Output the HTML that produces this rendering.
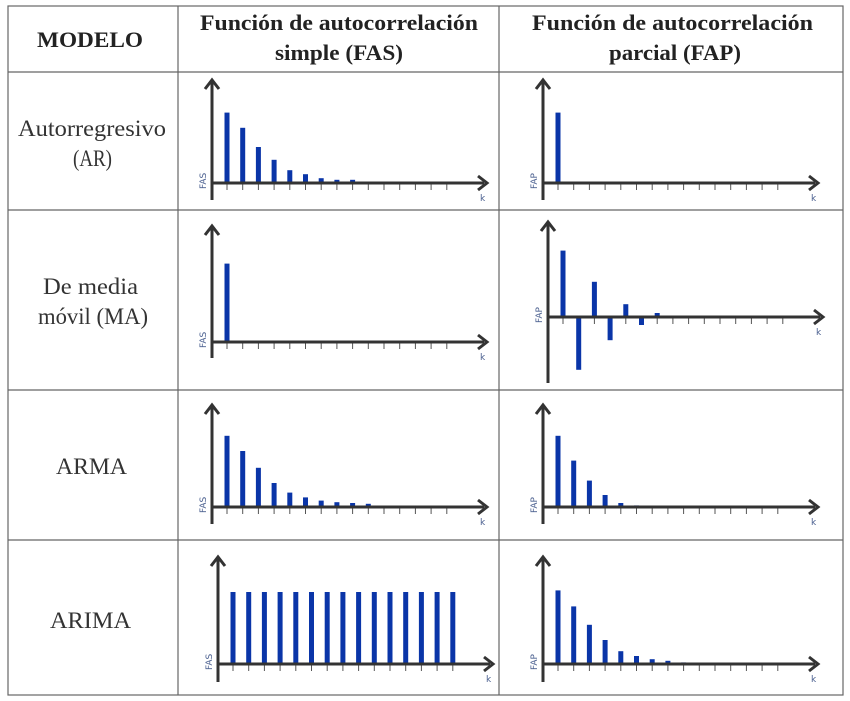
<!DOCTYPE html>
<html><head><meta charset="utf-8"><style>
html,body{margin:0;padding:0;background:#fff;width:850px;height:701px;overflow:hidden}
svg{display:block}
.h{font-family:"Liberation Serif",serif;font-weight:bold;font-size:22px;fill:#222}
.m{font-family:"Liberation Serif",serif;font-size:23px;fill:#333}
.al{font-family:"DejaVu Sans",sans-serif;font-size:9px;fill:#4a5f8f}
</style></head><body>
<svg id="s" width="850" height="701" viewBox="0 0 850 701">
<g stroke="#666" stroke-width="1.2" fill="none">
<rect x="8" y="6" width="835" height="689"/>
<line x1="178" y1="6" x2="178" y2="695"/>
<line x1="499" y1="6" x2="499" y2="695"/>
<line x1="8" y1="72" x2="843" y2="72"/>
<line x1="8" y1="210" x2="843" y2="210"/>
<line x1="8" y1="390" x2="843" y2="390"/>
<line x1="8" y1="540" x2="843" y2="540"/>
</g>
<text class="h" x="37" y="47" textLength="106" lengthAdjust="spacingAndGlyphs">MODELO</text>
<text class="h" x="200" y="30" textLength="278" lengthAdjust="spacingAndGlyphs">Función de autocorrelación</text>
<text class="h" x="275" y="60" textLength="128" lengthAdjust="spacingAndGlyphs">simple (FAS)</text>
<text class="h" x="532" y="30" textLength="281" lengthAdjust="spacingAndGlyphs">Función de autocorrelación</text>
<text class="h" x="609" y="60" textLength="132" lengthAdjust="spacingAndGlyphs">parcial (FAP)</text>
<text class="m" x="18" y="136" textLength="148" lengthAdjust="spacingAndGlyphs">Autorregresivo</text>
<text class="m" x="73" y="166" textLength="39" lengthAdjust="spacingAndGlyphs">(AR)</text>
<text class="m" x="43" y="294" textLength="95" lengthAdjust="spacingAndGlyphs">De media</text>
<text class="m" x="38" y="324" textLength="110" lengthAdjust="spacingAndGlyphs">móvil (MA)</text>
<text class="m" x="56" y="474" textLength="71" lengthAdjust="spacingAndGlyphs">ARMA</text>
<text class="m" x="50" y="628" textLength="81" lengthAdjust="spacingAndGlyphs">ARIMA</text>
</svg>
<script>
const arFas=[0.88,0.69,0.45,0.29,0.16,0.11,0.06,0.04,0.04,0.01,0.01];
const arFap=[0.88];
const maFas=[0.98];
const maFap=[0.83,-0.66,0.44,-0.29,0.16,-0.1,0.05];
const armaFas=[0.89,0.7,0.49,0.3,0.18,0.12,0.08,0.06,0.05,0.04];
const armaFap=[0.89,0.58,0.33,0.15,0.05,0.02];
const arimaFas=[0.9,0.9,0.9,0.9,0.9,0.9,0.9,0.9,0.9,0.9,0.9,0.9,0.9,0.9,0.9];
const arimaFap=[0.92,0.72,0.49,0.3,0.16,0.1,0.06,0.04,0.02,0.01];
const charts=[
 {n:'ar-fas',d:arFas,ox:212,oy:183,top:80,bot:200,lab:'FAS'},
 {n:'ar-fap',d:arFap,ox:543,oy:183,top:80,bot:200,lab:'FAP'},
 {n:'ma-fas',d:maFas,ox:212,oy:342,top:226,bot:358,lab:'FAS'},
 {n:'ma-fap',d:maFap,ox:548,oy:317,top:222,bot:383,lab:'FAP'},
 {n:'arma-fas',d:armaFas,ox:212,oy:507,top:405,bot:524,lab:'FAS'},
 {n:'arma-fap',d:armaFap,ox:543,oy:507,top:405,bot:524,lab:'FAP'},
 {n:'arima-fas',d:arimaFas,ox:218,oy:664,top:557,bot:682,lab:'FAS'},
 {n:'arima-fap',d:arimaFap,ox:543,oy:664,top:557,bot:682,lab:'FAP'}
];
const NS='http://www.w3.org/2000/svg',svg=document.getElementById('s');
function mk(t,a,p){const e=document.createElementNS(NS,t);for(const k in a)e.setAttribute(k,a[k]);p.appendChild(e);return e;}
const SCALE=80,STEP=15.7,FIRST=15;
charts.forEach(c=>{
 const g=mk('g',{},svg);
 
 
 const xs=i=>c.ox+FIRST+i*STEP, ys=v=>c.oy-v*SCALE;
 for(let i=0;i<15;i++){const t=mk('line',{x1:xs(i),y1:c.oy,x2:xs(i),y2:c.oy+7,stroke:'#555','stroke-width':1},g);
  }
 c.d.forEach((v,i)=>{const y=ys(v);const b=mk('rect',{x:xs(i)-2.5,y:Math.min(y,c.oy),width:5,height:Math.abs(c.oy-y),fill:'#0a35a8'},g);
  });
 const xa=mk('line',{x1:c.ox,y1:c.oy,x2:c.ox+272,y2:c.oy,stroke:'#333','stroke-width':3},g);
 
 const xh=mk('path',{d:`M${c.ox+266} ${c.oy-7} L${c.ox+275} ${c.oy} L${c.ox+266} ${c.oy+7}`,stroke:'#333','stroke-width':3,fill:'none'},g);
 
 const ya=mk('line',{x1:c.ox,y1:c.bot,x2:c.ox,y2:c.top,stroke:'#333','stroke-width':3},g);
 
 const yh=mk('path',{d:`M${c.ox-7} ${c.top+9} L${c.ox} ${c.top} L${c.ox+7} ${c.top+9}`,stroke:'#333','stroke-width':3,fill:'none'},g);
 
 const yl=mk('text',{class:'al',x:0,y:0,transform:`translate(${c.ox-6},${c.oy+6}) rotate(-90)`},g);yl.textContent=c.lab;
 
 const kl=mk('text',{class:'al',x:c.ox+268,y:c.oy+18},g);kl.textContent='k';
 
});
</script>
</body></html>
